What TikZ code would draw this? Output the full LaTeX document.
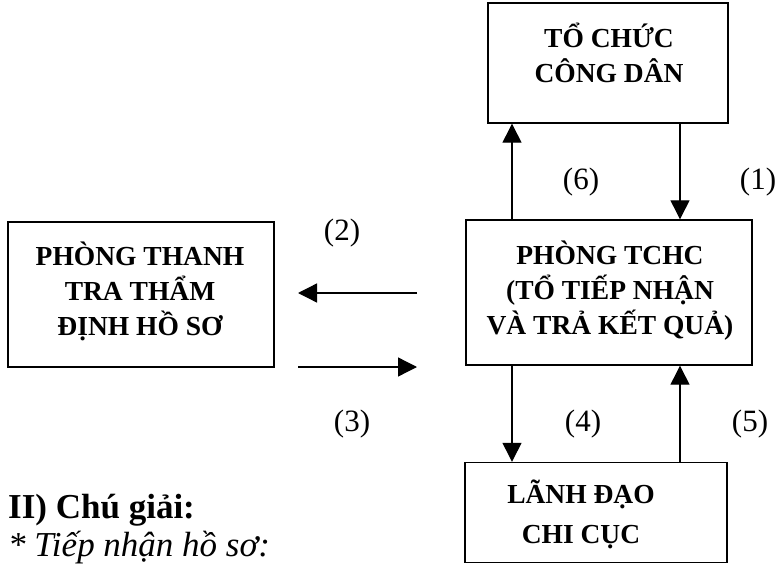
\documentclass[tikz,border=0pt]{standalone}
\usepackage{fontspec}
\setmainfont{Liberation Serif}
\usetikzlibrary{arrows.meta}
\begin{document}
\begin{tikzpicture}[x=1bp,y=-1bp,
  box/.style={draw, line width=1.4bp, rectangle, inner sep=0pt},
  boxtext/.style={font=\bfseries\fontsize{27.5bp}{35bp}\selectfont, align=center, inner sep=0pt},
  flow/.style={line width=1.3bp, -{Triangle[length=19bp,width=19bp]}},
  num/.style={font=\fontsize{31bp}{36bp}\selectfont, inner sep=0pt}]
\useasboundingbox (0,0) rectangle (776,565);
% boxes
\node[box, minimum width=240bp, minimum height=120bp] (A) at (608,63) {};
\node[boxtext] (At) at (609,53) {TỔ CHỨC\\CÔNG DÂN};
\node[box, minimum width=286bp, minimum height=145bp] (B) at (609,292.5) {};
\node[boxtext] (Bt) at (610,291) {PHÒNG TCHC\\(TỔ TIẾP NHẬN\\VÀ TRẢ KẾT QUẢ)};
\node[box, minimum width=266bp, minimum height=145bp] (C) at (141,294.5) {};
\node[boxtext] (Ct) at (140,291) {PHÒNG THANH\\TRA THẨM\\ĐỊNH HỒ SƠ};
\node[box, minimum width=262bp, minimum height=100bp] (D) at (596,512.5) {};
\node[boxtext, font=\bfseries\fontsize{27.5bp}{40bp}\selectfont] (Dt) at (581,514) {LÃNH ĐẠO\\CHI CỤC};
% columns and free ends
\coordinate (colL) at (512,0);
\coordinate (colR) at (680,0);
\coordinate (h2s) at (417,293);
\coordinate (h2e) at (298,293);
\coordinate (h3s) at (298,367);
\coordinate (h3e) at (417,367);
% connectors
\draw[flow] (B.north -| colL) -- (A.south -| colL);
\draw[flow] (A.south -| colR) -- (B.north -| colR);
\draw[flow] (h2s) -- (h2e);
\draw[flow] (h3s) -- (h3e);
\draw[flow] (B.south -| colL) -- (D.north -| colL);
\draw[flow] (D.north -| colR) -- (B.south -| colR);
% labels
\node[num] (l6) at (581,182) {(6)};
\node[num] (l1) at (758,182) {(1)};
\node[num] (l2) at (342,233) {(2)};
\node[num] (l3) at (352,424) {(3)};
\node[num] (l4) at (583,424) {(4)};
\node[num] (l5) at (750,424) {(5)};
% legend
\node[anchor=base west, inner sep=0pt, font=\bfseries\fontsize{35bp}{40bp}\selectfont] (leg) at (8,518) {II) Chú giải:};
\node[anchor=base west, inner sep=0pt, font=\itshape\fontsize{35bp}{40bp}\selectfont] (leg2) at (8,556) {* Tiếp nhận hồ sơ:};
\end{tikzpicture}
\end{document}
